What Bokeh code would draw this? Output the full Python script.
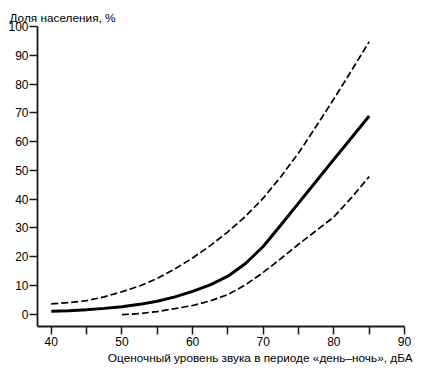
from bokeh.plotting import figure
from bokeh.models import Range1d, FixedTicker, Title
from bokeh.embed import file_html
from bokeh.resources import INLINE

# ---- data ----
x_ticks = [40, 45, 50, 55, 60, 65, 70, 75, 80, 85, 90]
x_tick_labels = ["40", "", "50", "", "60", "", "70", "", "80", "", "90"]
y_ticks = [0, 10, 20, 30, 40, 50, 60, 70, 80, 90, 100]

x_mid = [40, 42.5, 45, 47.5, 50, 52.5, 55, 57.5, 60, 62.5, 65, 67.5, 70, 72.5, 75, 77.5, 80, 82.5, 85]
y_mid = [1.0, 1.2, 1.5, 2.0, 2.6, 3.4, 4.5, 6.0, 7.9, 10.2, 13.2, 17.6, 23.5, 31.0, 38.6, 46.2, 53.8, 61.3, 68.9]

x_up = [40, 42.5, 45, 47.5, 50, 52.5, 55, 57.5, 60, 62.5, 65, 67.5, 70, 72.5, 75, 77.5, 80, 82.5, 85]
y_up = [3.6, 4.0, 4.7, 6.0, 7.8, 9.8, 12.4, 15.7, 19.5, 23.8, 28.6, 34.0, 40.3, 47.8, 56.0, 65.3, 74.8, 84.7, 94.7]

x_lo = [50, 52.5, 55, 57.5, 60, 62.5, 65, 67.5, 70, 72.5, 75, 77.5, 80, 82.5, 85]
y_lo = [-0.2, 0.2, 0.9, 1.9, 3.0, 4.6, 6.8, 10.2, 14.5, 19.3, 24.3, 29.0, 33.8, 40.5, 47.8]

y_title = "Доля населения, %"
x_title = "Оценочный уровень звука в периоде «день–ночь», дБА"

FONT = "Liberation Sans"
X0, X1 = 38.05, 90.0
Y0, Y1 = -4.3, 100.0

p = figure(width=424, height=369, x_range=Range1d(X0, X1), y_range=Range1d(Y0, Y1),
           output_backend="svg", toolbar_location=None,
           min_border_left=37, min_border_right=20, min_border_top=26, min_border_bottom=43)
p.outline_line_color = None
p.grid.visible = False
p.background_fill_color = "white"

for ax in (p.xaxis[0], p.yaxis[0]):
    ax.axis_line_color = "#1a1a1a"
    ax.axis_line_width = 1.8
    ax.major_tick_line_color = "#1a1a1a"
    ax.major_tick_line_width = 1.5
    ax.major_tick_in = 0
    ax.major_tick_out = 8
    ax.minor_tick_line_color = None
    ax.major_label_text_font = FONT
    ax.major_label_text_font_size = "12px"
    ax.major_label_text_color = "#000000"

p.xaxis.ticker = FixedTicker(ticks=x_ticks)
p.xaxis.major_label_overrides = {t: l for t, l in zip(x_ticks, x_tick_labels)}
p.xaxis.major_label_standoff = 2
p.yaxis.ticker = FixedTicker(ticks=y_ticks)
p.yaxis.major_label_standoff = 1

p.line(x_up, y_up, line_color="black", line_width=1.7, line_dash="7 3")
p.line(x_lo, y_lo, line_color="black", line_width=1.7, line_dash="7 3")
p.line(x_mid, y_mid, line_color="black", line_width=3)

p.add_layout(Title(text=y_title, align="left", offset=-28, standoff=0, vertical_align="top",
                   text_font=FONT, text_font_size="11.8px", text_font_style="normal",
                   text_color="black"), "above")
p.add_layout(Title(text=x_title, align="right", offset=-8, standoff=0,
                   text_font=FONT, text_font_size="11.8px", text_font_style="normal",
                   text_color="black"), "below")

open("out.html", "w").write(file_html(p, INLINE))
